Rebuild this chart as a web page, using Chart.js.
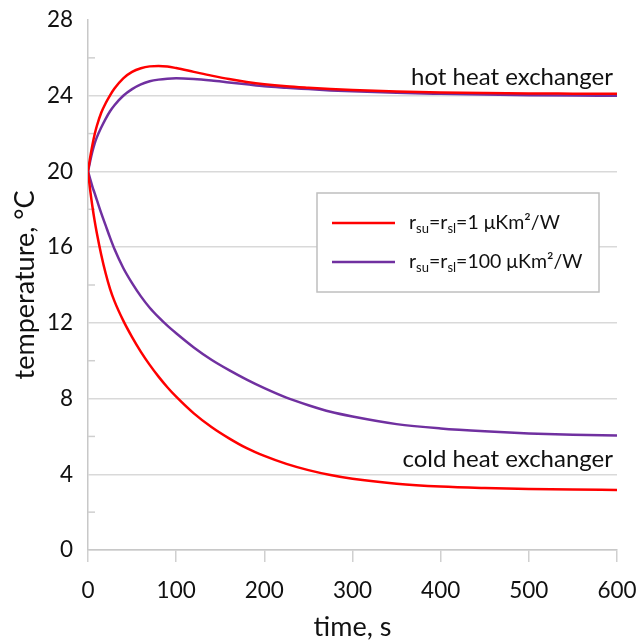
<!DOCTYPE html>
<html><head><meta charset="utf-8">
<script src="https://cdn.jsdelivr.net/npm/chart.js@4/dist/chart.umd.min.js"></script>
<style>html,body{margin:0;padding:0;background:#fff}</style>
</head><body>
<canvas id="c" width="638" height="643"></canvas>
<script>
const times      = [0,2.5,5,7.5,10,15,20,25,30,40,50,60,70,80,90,100,120,140,160,180,200,225,250,275,300,350,400,450,500,550,600];
const hotRed     = [20,20.75,21.4,21.95,22.4,23.1,23.6,24.02,24.38,24.92,25.26,25.45,25.55,25.57,25.54,25.46,25.26,25.06,24.88,24.73,24.61,24.5,24.42,24.35,24.3,24.22,24.17,24.14,24.12,24.11,24.1];
const hotPurple  = [20,20.55,21.05,21.47,21.8,22.32,22.78,23.18,23.5,24.0,24.35,24.6,24.76,24.85,24.9,24.92,24.88,24.8,24.7,24.6,24.5,24.42,24.35,24.28,24.23,24.15,24.1,24.06,24.03,24.01,24.0];
const coldRed    = [20,19.0,18.15,17.4,16.75,15.6,14.62,13.8,13.15,12.12,11.25,10.47,9.78,9.16,8.6,8.1,7.22,6.5,5.9,5.38,4.97,4.55,4.22,3.96,3.76,3.5,3.35,3.27,3.22,3.19,3.17];
const coldPurple = [20,19.6,19.2,18.85,18.5,17.8,17.15,16.5,15.9,14.9,14.1,13.4,12.8,12.3,11.85,11.45,10.7,10.05,9.5,9.0,8.55,8.05,7.65,7.3,7.05,6.65,6.42,6.27,6.16,6.09,6.05];
const xTickValues = [0,100,200,300,400,500,600];
const yTickValues = [0,4,8,12,16,20,24,28];
const yMinorTicks = [2,6,10,14,18,22,26];
const xTitle = 'time, s';
const yTitle = 'temperature, °C';
const annotTexts = ['hot heat exchanger','cold heat exchanger'];
const annotX = [600,600];
const annotY = [25.0,4.8];
const legendParts = [
  [['r',0],['su',1],['=r',0],['sl',1],['=1 μKm²/W',0]],
  [['r',0],['su',1],['=r',0],['sl',1],['=100 μKm²/W',0]]
];
const RED = '#ff0000', PURPLE = '#7030a0';
const FONT = 'Lato';

const toPts = arr => times.map((t,i)=>({x:t,y:arr[i]}));

const overlay = {
  id:'overlay',
  beforeDatasetsDraw(chart){
    const {ctx, chartArea:a, scales:{y}} = chart;
    ctx.save();
    ctx.strokeStyle = '#cfcfcf'; ctx.lineWidth = 1.5;
    for (const v of yMinorTicks){
      const py = y.getPixelForValue(v);
      ctx.beginPath(); ctx.moveTo(a.left, py); ctx.lineTo(a.left+7, py); ctx.stroke();
    }
    ctx.restore();
  },
  afterDatasetsDraw(chart){
    const {ctx, chartArea:a, scales:{x,y}} = chart;
    ctx.save();
    ctx.fillStyle = '#111';
    ctx.font = '24px ' + FONT;
    ctx.textAlign = 'right'; ctx.textBaseline = 'middle';
    annotTexts.forEach((t,i)=>{
      ctx.fillText(t, x.getPixelForValue(annotX[i]) - 4, y.getPixelForValue(annotY[i]));
    });
    const bx = a.left + 229, by = a.top + 173, bw = 282, bh = 99;
    ctx.fillStyle = '#fff'; ctx.fillRect(bx, by, bw, bh);
    ctx.strokeStyle = '#bfbfbf'; ctx.lineWidth = 1.5; ctx.strokeRect(bx, by, bw, bh);
    const colors = [RED, PURPLE];
    const rowY = [by + 30, by + 69];
    legendParts.forEach((parts,i)=>{
      ctx.strokeStyle = colors[i]; ctx.lineWidth = 2.5;
      ctx.beginPath(); ctx.moveTo(bx+15, rowY[i]); ctx.lineTo(bx+78, rowY[i]); ctx.stroke();
      let tx = bx + 92;
      ctx.textAlign = 'left'; ctx.textBaseline = 'middle'; ctx.fillStyle = '#111';
      for (const [s,sub] of parts){
        ctx.font = (sub ? '13px ' : '19.5px ') + FONT;
        ctx.fillText(s, tx, rowY[i] + (sub ? 6 : 0));
        tx += ctx.measureText(s).width;
      }
    });
    ctx.restore();
  }
};

new Chart(document.getElementById('c'), {
  type:'line',
  data:{ datasets:[
    {label:'hot r1', data:toPts(hotRed), borderColor:RED},
    {label:'hot r100', data:toPts(hotPurple), borderColor:PURPLE},
    {label:'cold r1', data:toPts(coldRed), borderColor:RED},
    {label:'cold r100', data:toPts(coldPurple), borderColor:PURPLE}
  ].map(d=>Object.assign(d,{borderWidth:2.5, pointRadius:0, fill:false, cubicInterpolationMode:'monotone'}))},
  options:{
    responsive:false, animation:false,
    layout:{padding:{top:20,right:21,left:0,bottom:0}},
    plugins:{legend:{display:false}, tooltip:{enabled:false}},
    scales:{
      x:{type:'linear', min:0, max:600,
        afterFit(s){ s.height = 93; s.paddingLeft = 0; s.paddingRight = 0; },
        afterBuildTicks(s){ s.ticks = xTickValues.map(v=>({value:v})); },
        grid:{drawOnChartArea:false, drawTicks:true, tickLength:12, color:'#d0d0d0', lineWidth:1.5},
        border:{color:'#c8c8c8', width:1.5},
        ticks:{padding:15, color:'#111', font:{family:FONT, size:22.5}, maxRotation:0},
        title:{display:true, text:xTitle, color:'#111', font:{family:FONT, size:27}, padding:{top:0,bottom:0}}
      },
      y:{type:'linear', min:0, max:28,
        afterFit(s){ s.width = 88; s.paddingTop = 0; s.paddingBottom = 0; },
        afterBuildTicks(s){ s.ticks = yTickValues.map(v=>({value:v})); },
        grid:{drawTicks:false, color:ctx=>ctx.tick && ctx.tick.value===28 ? 'rgba(0,0,0,0)' : '#d9d9d9', lineWidth:1.5},
        border:{color:'#c8c8c8', width:1.5},
        ticks:{padding:15, color:'#111', font:{family:FONT, size:22.5}},
        title:{display:true, text:yTitle, color:'#111', font:{family:FONT, size:27}, padding:{top:9,bottom:0}}
      }
    }
  },
  plugins:[overlay]
});
</script>
</body></html>
